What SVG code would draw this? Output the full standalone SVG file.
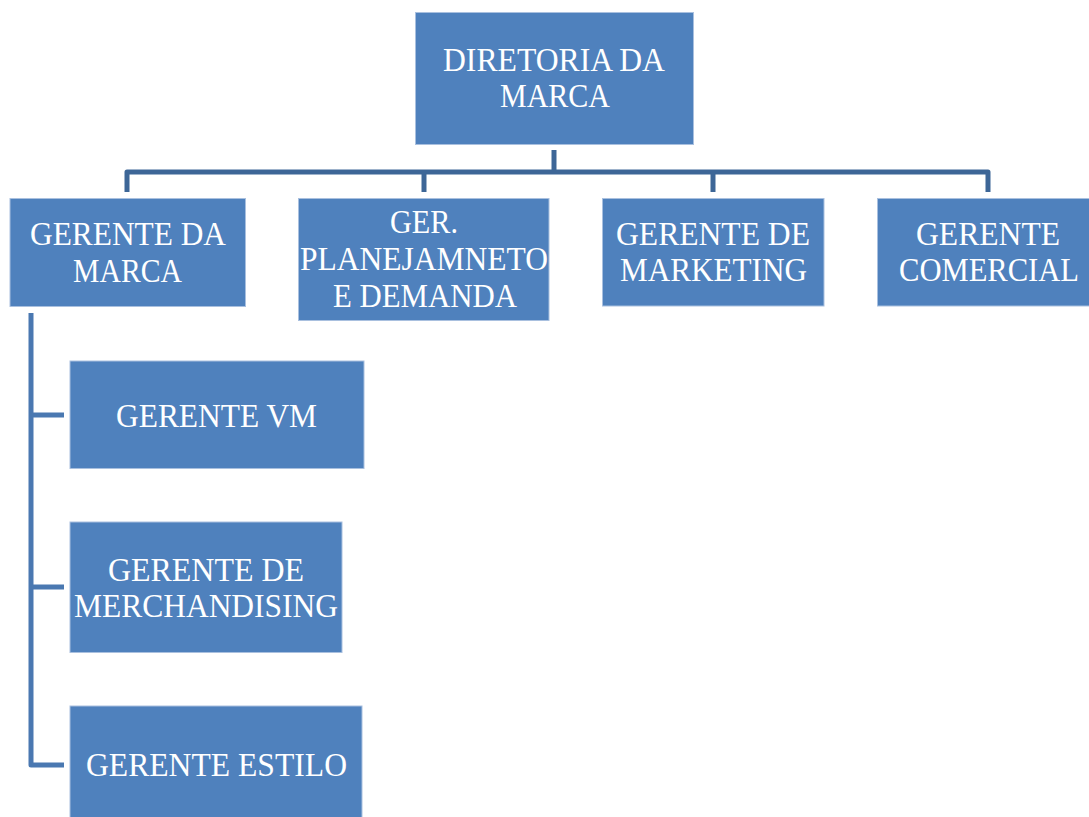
<svg xmlns="http://www.w3.org/2000/svg" width="1089" height="817" viewBox="0 0 1089 817">
<style>
.box{fill:#4F81BD;stroke:#A9C0DF;stroke-width:1}
.t{font-family:"Liberation Serif","Times New Roman",serif;font-size:34px;fill:#FFFFFF}
.c1{fill:none;stroke:#3D6697;stroke-width:5;stroke-linejoin:round}
.c2{fill:none;stroke:#4A78B1;stroke-width:5;stroke-linejoin:round}
</style>
<rect width="1089" height="817" fill="#FFFFFF"/>
<g id="connectors">
<path class="c1" d="M554 150 V172"/>
<path class="c1" d="M127 192 V172 H988 V192"/>
<path class="c1" d="M424 172 V192"/>
<path class="c1" d="M713 172 V192"/>
<path class="c2" d="M31 313 V765 H64"/>
<path class="c2" d="M31 415 H64"/>
<path class="c2" d="M31 587 H64"/>
</g>
<g id="diretoria">
<rect class="box" x="415.5" y="12.5" width="278" height="132"/>
<text class="t" x="443" y="71" textLength="222" lengthAdjust="spacingAndGlyphs">DIRETORIA DA</text>
<text class="t" x="500" y="107" textLength="110" lengthAdjust="spacingAndGlyphs">MARCA</text>
</g>
<g id="gerente-marca">
<rect class="box" x="10" y="198.5" width="235.5" height="108"/>
<text class="t" x="30" y="245" textLength="196" lengthAdjust="spacingAndGlyphs">GERENTE DA</text>
<text class="t" x="73" y="282" textLength="109" lengthAdjust="spacingAndGlyphs">MARCA</text>
</g>
<g id="ger-planejamento">
<rect class="box" x="298.5" y="198.5" width="250.5" height="122"/>
<text class="t" x="390" y="233" textLength="68" lengthAdjust="spacingAndGlyphs">GER.</text>
<text class="t" x="300" y="270" textLength="248" lengthAdjust="spacingAndGlyphs">PLANEJAMNETO</text>
<text class="t" x="333" y="307" textLength="184" lengthAdjust="spacingAndGlyphs">E DEMANDA</text>
</g>
<g id="gerente-marketing">
<rect class="box" x="602.5" y="198.5" width="221.5" height="107.5"/>
<text class="t" x="616" y="245" textLength="194" lengthAdjust="spacingAndGlyphs">GERENTE DE</text>
<text class="t" x="620" y="280.5" textLength="187" lengthAdjust="spacingAndGlyphs">MARKETING</text>
</g>
<g id="gerente-comercial">
<rect class="box" x="877.5" y="198.5" width="212" height="107.5"/>
<text class="t" x="916" y="245" textLength="144" lengthAdjust="spacingAndGlyphs">GERENTE</text>
<text class="t" x="899" y="280.5" textLength="180" lengthAdjust="spacingAndGlyphs">COMERCIAL</text>
</g>
<g id="gerente-vm">
<rect class="box" x="70" y="361" width="294" height="107.5"/>
<text class="t" x="116" y="426.5" textLength="201" lengthAdjust="spacingAndGlyphs">GERENTE VM</text>
</g>
<g id="gerente-merchandising">
<rect class="box" x="70" y="522" width="272" height="130.5"/>
<text class="t" x="108" y="580.5" textLength="196" lengthAdjust="spacingAndGlyphs">GERENTE DE</text>
<text class="t" x="74" y="617" textLength="264" lengthAdjust="spacingAndGlyphs">MERCHANDISING</text>
</g>
<g id="gerente-estilo">
<rect class="box" x="70" y="706" width="292" height="112"/>
<text class="t" x="86" y="775.5" textLength="261" lengthAdjust="spacingAndGlyphs">GERENTE ESTILO</text>
</g>
</svg>
